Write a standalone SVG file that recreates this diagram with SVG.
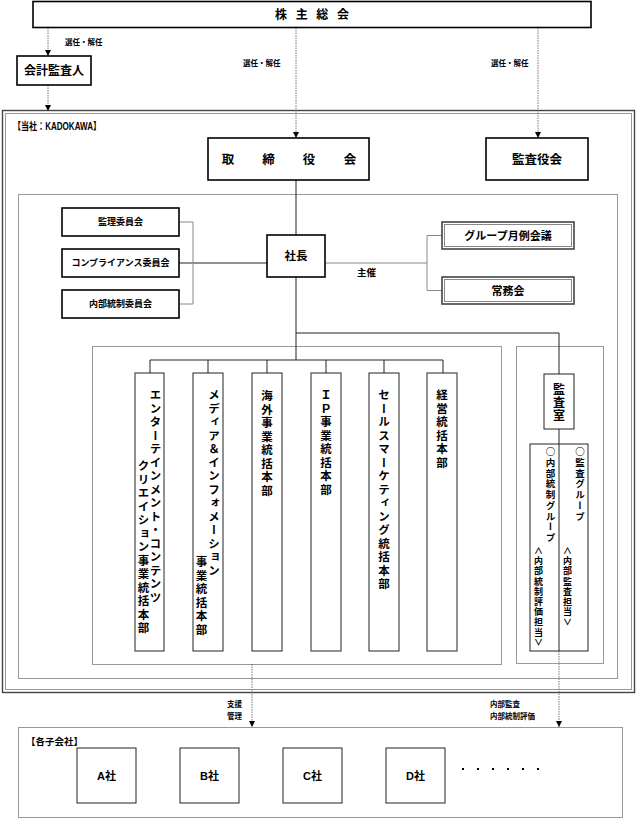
<svg xmlns="http://www.w3.org/2000/svg" width="640" height="827" viewBox="0 0 640 827">
<defs>
<marker id="ah" viewBox="0 0 10 10" refX="10" refY="5" markerWidth="6" markerHeight="6" orient="auto" markerUnits="userSpaceOnUse"><path d="M0,0 L10,5 L0,10 z" fill="#000"/></marker>
<style>
text{font-family:"Liberation Sans","Noto Sans CJK JP",sans-serif;font-weight:bold;fill:#000}
.c{text-anchor:middle;dominant-baseline:central}
.m{dominant-baseline:central}
.v{writing-mode:vertical-rl;font-family:"Noto Sans CJK JP",sans-serif}
.bx{fill:#fff;stroke:#000;stroke-width:1.6}
.bx1{fill:#fff;stroke:#222;stroke-width:1}
.area{fill:none;stroke:#999;stroke-width:1}
.ln{fill:none;stroke:#222;stroke-width:1}
.gl{fill:none;stroke:#888;stroke-width:1}
.dl{fill:none;stroke:#555;stroke-width:0.8;stroke-dasharray:1.5 1}
.dbl{fill:#fff;stroke:#444;stroke-width:1.6}
.dbli{fill:none;stroke:#888;stroke-width:1}
</style>
</defs>
<rect width="640" height="827" fill="#fff"/>

<g id="frame-kadokawa">
<rect x="2.5" y="110.5" width="632" height="582" fill="none" stroke="#444" stroke-width="1.4"/>
<rect x="5.5" y="113.5" width="626" height="576" fill="none" stroke="#999"/>
<text x="13" y="126" class="m" font-size="10" textLength="88" lengthAdjust="spacingAndGlyphs">【当社：KADOKAWA】</text>
</g>
<g id="area-management"><rect x="18.5" y="194.5" width="599" height="484" class="area"/></g>
<g id="area-divisions"><rect x="92.5" y="346.5" width="409" height="318" class="area"/></g>
<g id="area-audit"><rect x="516.5" y="346.5" width="87" height="317" class="area"/></g>

<g id="connectors">
<path d="M48,27.5 V56" class="dl" marker-end="url(#ah)"/>
<path d="M48,85 V111" class="dl" marker-end="url(#ah)"/>
<path d="M296,27.5 V138" class="dl" marker-end="url(#ah)"/>
<path d="M538,27.5 V138" class="dl" marker-end="url(#ah)"/>
<path d="M296,180 V235" class="ln"/>
<path d="M179,263 H267" class="ln"/>
<path d="M179,222 H193 V304 H179" class="gl"/>
<path d="M325,263 H427 M427,235.5 V290.5 M427,235.5 H442 M427,290.5 H442" class="gl"/>
<path d="M296,277 V360 M150,360 H443 M150,360 V373 M208,360 V373 M267,360 V373 M326,360 V373 M384,360 V373 M443,360 V373" class="ln"/>
<path d="M296,333 H559 V374 M559,429 V444" class="ln"/>
<path d="M252,664 V727" class="dl" marker-end="url(#ah)"/>
<path d="M559,651 V727" class="dl" marker-end="url(#ah)"/>
</g>

<g id="labels">
<text x="65" y="42" class="m" font-size="7.5">選任・解任</text>
<text x="243" y="63" class="m" font-size="7.5">選任・解任</text>
<text x="491" y="63" class="m" font-size="7.5">選任・解任</text>
<text x="366.5" y="272" class="c" font-size="9.5">主催</text>
<text x="227" y="704" class="m" font-size="7.5">支援</text>
<text x="227" y="716" class="m" font-size="7.5">管理</text>
<text x="490" y="704" class="m" font-size="7.5">内部監査</text>
<text x="490" y="716" class="m" font-size="7.5">内部統制評価</text>
</g>

<g id="node-shareholders">
<rect x="33" y="1.5" width="558" height="26" class="bx"/>
<text x="275 295.7 316.3 337" y="15" class="m" font-size="12">株主総会</text>
</g>
<g id="node-accounting-auditor">
<rect x="17" y="56" width="74" height="29" class="bx"/>
<text x="54" y="71" class="c" font-size="12">会計監査人</text>
</g>
<g id="node-board">
<rect x="208" y="138" width="161" height="42" class="bx"/>
<text x="228 268.5 309 350" y="160" class="m" font-size="12.5" text-anchor="middle">取締役会</text>
</g>
<g id="node-audit-board">
<rect x="486" y="138" width="102" height="42" class="bx"/>
<text x="537" y="160" class="c" font-size="12.5">監査役会</text>
</g>
<g id="node-committee-1">
<rect x="62" y="208" width="117" height="28" class="bx"/>
<text x="120.5" y="222" class="c" font-size="9">監理委員会</text>
</g>
<g id="node-committee-2">
<rect x="62" y="249" width="117" height="28" class="bx"/>
<text x="120.5" y="263" class="c" font-size="9">コンプライアンス委員会</text>
</g>
<g id="node-committee-3">
<rect x="62" y="290" width="117" height="28" class="bx"/>
<text x="120.5" y="304" class="c" font-size="9">内部統制委員会</text>
</g>
<g id="node-president">
<rect x="267" y="235" width="58" height="42" class="bx"/>
<text x="296" y="256" class="c" font-size="11.5">社長</text>
</g>
<g id="node-monthly-meeting">
<rect x="442" y="222" width="132" height="27" class="dbl"/>
<rect x="444.5" y="224.5" width="127" height="22" class="dbli"/>
<text x="508" y="235.5" class="c" font-size="11">グループ月例会議</text>
</g>
<g id="node-executive-meeting">
<rect x="442" y="277" width="132" height="27" class="dbl"/>
<rect x="444.5" y="279.5" width="127" height="22" class="dbli"/>
<text x="508" y="290.5" class="c" font-size="11">常務会</text>
</g>

<g id="node-div-entertainment">
<rect x="135" y="373" width="29" height="278" class="bx1"/>
<text x="155.5" y="389" class="v" font-size="11.5" letter-spacing="2">エンターテインメント・コンテンツ</text>
<text x="143.5" y="460" class="v" font-size="11.5" letter-spacing="2">クリエイション事業統括本部</text>
</g>
<g id="node-div-media">
<rect x="193" y="373" width="30" height="278" class="bx1"/>
<text x="214" y="389" class="v" font-size="11.5" letter-spacing="2">メディア＆インフォメーション</text>
<text x="201.5" y="556" class="v" font-size="11.5" letter-spacing="2">事業統括本部</text>
</g>
<g id="node-div-overseas">
<rect x="252" y="373" width="30" height="278" class="bx1"/>
<text x="267" y="390" class="v" font-size="11.5" letter-spacing="2">海外事業統括本部</text>
</g>
<g id="node-div-ip">
<rect x="311" y="373" width="30" height="278" class="bx1"/>
<text x="326" y="389" class="v" font-size="11.5" letter-spacing="2">ＩＰ事業統括本部</text>
</g>
<g id="node-div-sales">
<rect x="369" y="373" width="30" height="278" class="bx1"/>
<text x="384" y="389" class="v" font-size="11.5" letter-spacing="2">セールスマーケティング統括本部</text>
</g>
<g id="node-div-management">
<rect x="427" y="373" width="30" height="278" class="bx1"/>
<text x="442" y="389" class="v" font-size="11.5" letter-spacing="2">経営統括本部</text>
</g>

<g id="node-audit-office">
<rect x="544" y="374" width="30" height="55" class="bx1"/>
<text x="559" y="383" class="v" font-size="12" letter-spacing="1">監査室</text>
</g>
<g id="node-audit-groups">
<rect x="530" y="444" width="58" height="207" class="bx1"/>
<path d="M559,444 V651" class="ln"/>
<text x="580" y="447" class="v" font-size="9.5" letter-spacing="1.2">○監査グループ</text>
<text x="567.5" y="546" class="v" font-size="9" letter-spacing="1.2">＜内部監査担当＞</text>
<text x="550.5" y="447" class="v" font-size="9.5" letter-spacing="1.2">○内部統制グループ</text>
<text x="538.5" y="546" class="v" font-size="9" letter-spacing="1.2">＜内部統制評価担当＞</text>
</g>

<g id="area-subsidiaries">
<rect x="18.5" y="727.5" width="604" height="90" class="area"/>
<text x="26" y="741" class="m" font-size="9.5">【各子会社】</text>
</g>
<g id="node-company-a"><rect x="77" y="748" width="59" height="55" class="bx1"/><text x="106.5" y="776" class="c" font-size="11">A社</text></g>
<g id="node-company-b"><rect x="180" y="748" width="59" height="55" class="bx1"/><text x="209.5" y="776" class="c" font-size="11">B社</text></g>
<g id="node-company-c"><rect x="283" y="748" width="59" height="55" class="bx1"/><text x="312.5" y="776" class="c" font-size="11">C社</text></g>
<g id="node-company-d"><rect x="386" y="748" width="59" height="55" class="bx1"/><text x="415.5" y="776" class="c" font-size="11">D社</text></g>
<g id="ellipsis" fill="#000">
<rect x="462" y="768" width="2" height="2"/><rect x="477" y="768" width="2" height="2"/><rect x="492" y="768" width="2" height="2"/><rect x="507" y="768" width="2" height="2"/><rect x="522" y="768" width="2" height="2"/><rect x="537" y="768" width="2" height="2"/>
</g>
</svg>
